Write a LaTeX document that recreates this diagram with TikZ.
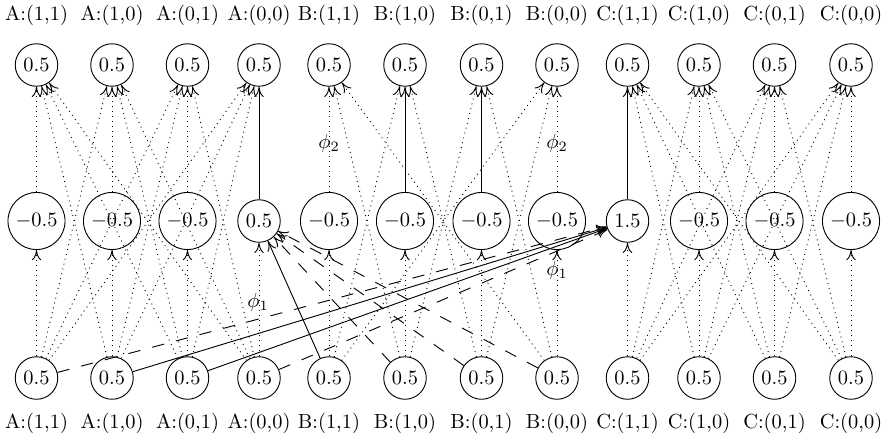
\documentclass[tikz,border=0pt]{standalone}
\usetikzlibrary{arrows.meta}
\begin{document}
\begin{tikzpicture}[x=0.49pt,y=-0.49pt,>={To[length=5pt,width=4.6pt]},line width=0.45pt,
  nd/.style={circle,draw,inner sep=2.4pt},
  lab/.style={inner sep=0pt},
  dotarr/.style={->,dotted},
  solarr/.style={->},
  dsharr/.style={->,dash pattern=on 6pt off 6pt}]
\useasboundingbox (0,0) rectangle (891,439);
\foreach \i/\x/\g/\p/\q/\v in {
 1/36.5/A/1/1/-0.5, 2/112/A/1/0/-0.5, 3/187.5/A/0/1/-0.5, 4/259/A/0/0/0.5,
 5/329/B/1/1/-0.5, 6/405/B/1/0/-0.5, 7/481.5/B/0/1/-0.5, 8/557/B/0/0/-0.5,
 9/627.5/C/1/1/1.5, 10/699/C/1/0/-0.5, 11/774.5/C/0/1/-0.5, 12/851/C/0/0/-0.5}{
  \node[lab] (lt\i) at (\x,15) {\g:(\p,\q)};
  \node[nd] (t\i) at (\x,65) {$0.5$};
  \node[nd] (m\i) at (\x,221) {$\v$};
  \node[nd] (b\i) at (\x,378) {$0.5$};
  \node[lab] (lb\i) at (\x,423) {\g:(\p,\q)};
  \draw[dotarr] (b\i) -- (m\i);
}
% hidden to output
\foreach \i in {1,2,3,5,8,10,11,12} \draw[dotarr] (m\i) -- (t\i);
\foreach \i in {4,6,7,9} \draw[solarr] (m\i) -- (t\i);
% input to output (group A, C full; group B partial)
\foreach \j/\i in {2/1,3/1,4/1,1/2,3/2,4/2,1/3,2/3,4/3,1/4,2/4,3/4,
  10/9,11/9,12/9,9/10,11/10,12/10,9/11,10/11,12/11,9/12,10/12,11/12,
  6/5,8/5,5/6,7/6,6/7,8/7,5/8,7/8}
  \draw[dotarr] (b\j) -- (t\i);
% rule phi_1 / phi_2 connections
\draw[solarr] (b5) -- (m4);
\foreach \j in {6,7,8} \draw[dsharr] (b\j) -- (m4);
\foreach \j in {2,3} \draw[solarr] (b\j) -- (m9);
\foreach \j in {1,4} \draw[dsharr] (b\j) -- (m9);
% labels
\node (p2a) at (329,143) {$\phi_2$};
\node (p2b) at (557,143) {$\phi_2$};
\node (p1a) at (258,302) {$\phi_1$};
\node (p1b) at (557,270) {$\phi_1$};
\end{tikzpicture}
\end{document}
